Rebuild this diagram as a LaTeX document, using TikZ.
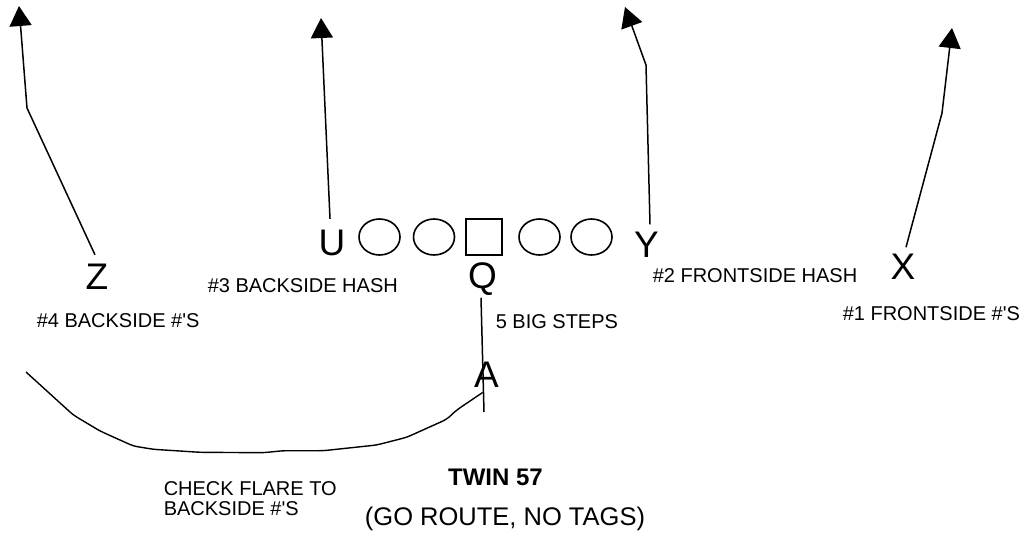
\documentclass[tikz,border=0pt]{standalone}
\usepackage{fontspec}
\setmainfont{Liberation Sans}[Ligatures=TeXOff]
\usetikzlibrary{arrows.meta,shapes.geometric}
\begin{document}
\begin{tikzpicture}[x=1pt,y=-1pt,line width=1.5pt,
  player/.style={font=\fontsize{37}{40}\selectfont, inner sep=0pt, anchor=base},
  lbl/.style={font=\fontsize{20}{24}\selectfont, inner sep=0pt, anchor=base west},
  route/.style={line width=1.5pt, -{Triangle[width=22pt,length=20pt]}},
  lineman/.style={draw, ellipse, minimum width=41pt, minimum height=36pt, inner sep=0pt, line width=1.6pt},
  centerbox/.style={draw, rectangle, minimum size=36pt, inner sep=0pt, line width=1.6pt}]
\useasboundingbox (0,0) rectangle (1023,535);

% offensive line
\node[lineman] (o1) at (379.5,237) {};
\node[lineman] (o2) at (434,237) {};
\node[centerbox] (c) at (484,237) {};
\node[lineman] (o3) at (539.5,237) {};
\node[lineman] (o4) at (591.5,237) {};

% players
\node[player] (Z) at (97,289) {Z};
\node[player] (U) at (332,255) {U};
\node[player] (Y) at (646.5,257) {Y};
\node[player] (X) at (903,279) {X};
\node[player] (Q) at (482.5,288) {Q};
\node[player] (A) at (486.5,387) {A};

% route points
\coordinate (zb) at (27,108);
\coordinate (zt) at (19,6);
\coordinate (ut) at (321,18);
\coordinate (yb) at (646,65);
\coordinate (yt) at (625,7);
\coordinate (xb) at (942,113);
\coordinate (xt) at (952,28);
\coordinate (qe) at (484,412);
\coordinate (fe) at (26,372);

\draw[route] ([xshift=-2pt,yshift=8pt]Z.north) -- (zb) -- (zt);
\draw[route] ([xshift=-2pt,yshift=10pt]U.north) -- (ut);
\draw[route] ([xshift=3.5pt,yshift=6.5pt]Y.north) -- (yb) -- (yt);
\draw[route] ([xshift=3pt,yshift=5.5pt]X.north) -- (xb) -- (xt);
\draw ([xshift=-1.5pt,yshift=-2pt]Q.south) -- (qe);

\coordinate (a0) at ([xshift=-3.8pt,yshift=-4.7pt]A.south);
\draw[line width=1.4pt, rounded corners=4pt] (a0) -- (456.7,410) -- (446.7,419.3) -- (406.7,437.3) -- (376.7,445) -- (323.3,450.7) -- (283.3,450.7) -- (263.3,452.7) -- (200,452.3) -- (153.3,449.3) -- (133.3,446) -- (100,431) -- (73.3,415) -- (fe);

% labels
\node[lbl] (l4) at (36,327) {\#4 BACKSIDE \#'S};
\node[lbl] (l3) at (207,292) {\#3 BACKSIDE HASH};
\node[lbl] (l5) at (495,328) {5 BIG STEPS};
\node[lbl] (l2) at (652,282) {\#2 FRONTSIDE HASH};
\node[lbl] (l1) at (842,320) {\#1 FRONTSIDE \#'S};
\node[lbl] (ck1) at (163,495) {CHECK FLARE TO};
\node[lbl] (ck2) at (163,515) {BACKSIDE \#'S};
\node[font=\fontsize{24}{28}\selectfont\bfseries, inner sep=0pt, anchor=base] (tw) at (495.5,485) {TWIN 57};
\node[font=\fontsize{25.5}{30}\selectfont, inner sep=0pt, anchor=base] (go) at (505,525) {(GO ROUTE, NO TAGS)};
\end{tikzpicture}
\end{document}
